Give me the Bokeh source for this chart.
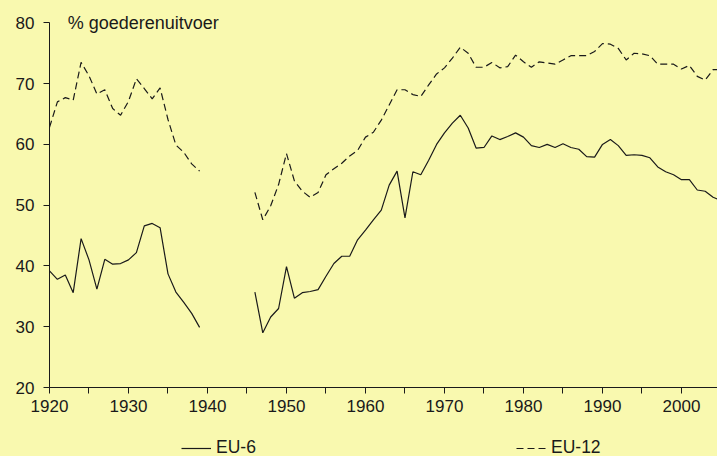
from bokeh.plotting import figure
from bokeh.layouts import column
from bokeh.models import (Range1d, FixedTicker, Legend, LegendItem, Label, ColumnDataSource)
from bokeh.embed import file_html
from bokeh.resources import INLINE

# ---- data ----
years_prewar = list(range(1920, 1940))
years_postwar = list(range(1946, 2006))

eu6_prewar = [39.2, 37.8, 38.5, 35.6, 44.5, 41.0, 36.2, 41.1, 40.3, 40.4,
              41.0, 42.2, 46.6, 47.0, 46.3, 38.7, 35.7, 34.0, 32.2, 29.9]
eu6_postwar = [35.7, 29.0, 31.6, 33.0, 39.9, 34.7, 35.6, 35.8, 36.1, 38.3,
               40.4, 41.6, 41.6, 44.3, 45.9, 47.6, 49.2, 53.3, 55.6, 47.9,
               55.5, 55.0, 57.4, 60.0, 61.9, 63.5, 64.8, 62.7, 59.4, 59.5,
               61.4, 60.8, 61.3, 61.9, 61.2, 59.8, 59.5, 60.0, 59.5, 60.1,
               59.5, 59.2, 58.0, 57.9, 60.0, 60.8, 59.8, 58.2, 58.3, 58.2,
               57.8, 56.3, 55.5, 55.0, 54.2, 54.2, 52.5, 52.3, 51.3, 50.8]

eu12_prewar = [62.8, 67.0, 67.7, 67.3, 73.5, 71.3, 68.3, 69.0, 65.9, 64.8,
               67.1, 70.8, 69.2, 67.5, 69.3, 64.1, 59.9, 58.7, 56.8, 55.6]
eu12_postwar = [52.1, 47.6, 49.9, 53.4, 58.5, 54.0, 52.3, 51.3, 52.1, 55.0,
                56.0, 56.9, 58.1, 59.0, 61.2, 62.0, 64.0, 66.5, 69.0, 69.0,
                68.2, 67.9, 69.8, 71.6, 72.6, 74.2, 76.0, 75.0, 72.7, 72.7,
                73.5, 72.6, 72.8, 74.7, 73.6, 72.7, 73.6, 73.4, 73.2, 73.9,
                74.6, 74.6, 74.6, 75.3, 76.6, 76.5, 75.8, 73.9, 75.0, 74.9,
                74.6, 73.2, 73.2, 73.2, 72.4, 73.0, 71.2, 70.6, 72.3, 72.3]

x_major = [1920, 1930, 1940, 1950, 1960, 1970, 1980, 1990, 2000]
x_minor = [1925, 1935, 1945, 1955, 1965, 1975, 1985, 1995]
y_ticks = [20, 30, 40, 50, 60, 70, 80]
title_text = "% goederenuitvoer"
series_names = ["EU-6", "EU-12"]

BG = "#F9F9AF"
INK = "#1a1a1a"
FONT = "Liberation Sans"
DASH = "7 4"
NAN = float("nan")

years = years_prewar + [NAN] + years_postwar
eu6 = eu6_prewar + [NAN] + eu6_postwar
eu12 = eu12_prewar + [NAN] + eu12_postwar
src = ColumnDataSource(dict(year=years, eu6=eu6, eu12=eu12))

# ---- main chart ----
p = figure(width=717, height=420, output_backend="svg", toolbar_location=None,
           x_range=Range1d(1920, 2004.56), y_range=Range1d(20, 81.71),
           min_border_left=49, min_border_right=0, min_border_top=12,
           min_border_bottom=33)
p.background_fill_color = BG
p.border_fill_color = BG
p.outline_line_color = None
p.xgrid.visible = False
p.ygrid.visible = False

p.line("year", "eu6", source=src, line_color=INK, line_width=1.2)
p.line("year", "eu12", source=src, line_color=INK, line_width=1.2, line_dash=DASH)

for ax in (p.xaxis[0], p.yaxis[0]):
    ax.axis_line_color = INK
    ax.major_tick_line_color = INK
    ax.minor_tick_line_color = INK
    ax.major_tick_in = 0
    ax.major_tick_out = 6
    ax.minor_tick_in = 0
    ax.minor_tick_out = 6
    ax.major_label_text_font = FONT
    ax.major_label_text_font_size = "17px"
    ax.major_label_text_color = INK

p.xaxis[0].ticker = FixedTicker(ticks=x_major, minor_ticks=x_minor)
p.xaxis[0].major_label_standoff = 6
p.yaxis[0].ticker = FixedTicker(ticks=y_ticks, minor_ticks=[])
p.yaxis[0].major_label_standoff = 9
p.yaxis[0].bounds = (20, 80)

title = Label(x=1922.3, y=80, text=title_text, text_font=FONT,
              text_font_size="18px", text_color=INK, text_baseline="middle",
              text_align="left")
p.add_layout(title)

# ---- legend strip (frame aligned with the chart's frame) ----
lg = figure(width=717, height=36, output_backend="svg", toolbar_location=None,
            x_range=Range1d(0, 1), y_range=Range1d(0, 1),
            x_axis_type=None, y_axis_type=None,
            min_border_left=49, min_border_right=0, min_border_top=0,
            min_border_bottom=0)
lg.background_fill_color = BG
lg.border_fill_color = BG
lg.outline_line_color = None
lg.xgrid.visible = False
lg.ygrid.visible = False
k6 = lg.line([NAN], [NAN], line_color=INK, line_width=1.2)
k12 = lg.line([NAN], [NAN], line_color=INK, line_width=1.2, line_dash=DASH)

legend = Legend(items=[LegendItem(label=series_names[0], renderers=[k6]),
                       LegendItem(label=series_names[1], renderers=[k12])],
                orientation="horizontal", location=(132, -2),
                spacing=240, padding=0, margin=0,
                glyph_width=30, glyph_height=14, label_height=14,
                label_width=60, label_standoff=5,
                label_text_font=FONT, label_text_font_size="17.5px",
                label_text_color=INK,
                border_line_color=None, background_fill_alpha=0)
lg.add_layout(legend, "center")

layout = column(p, lg, spacing=0)

html = file_html(layout, INLINE)
html = html.replace("</head>", "<style>html,body{background:%s;}</style></head>" % BG, 1)
open("out.html", "w").write(html)
